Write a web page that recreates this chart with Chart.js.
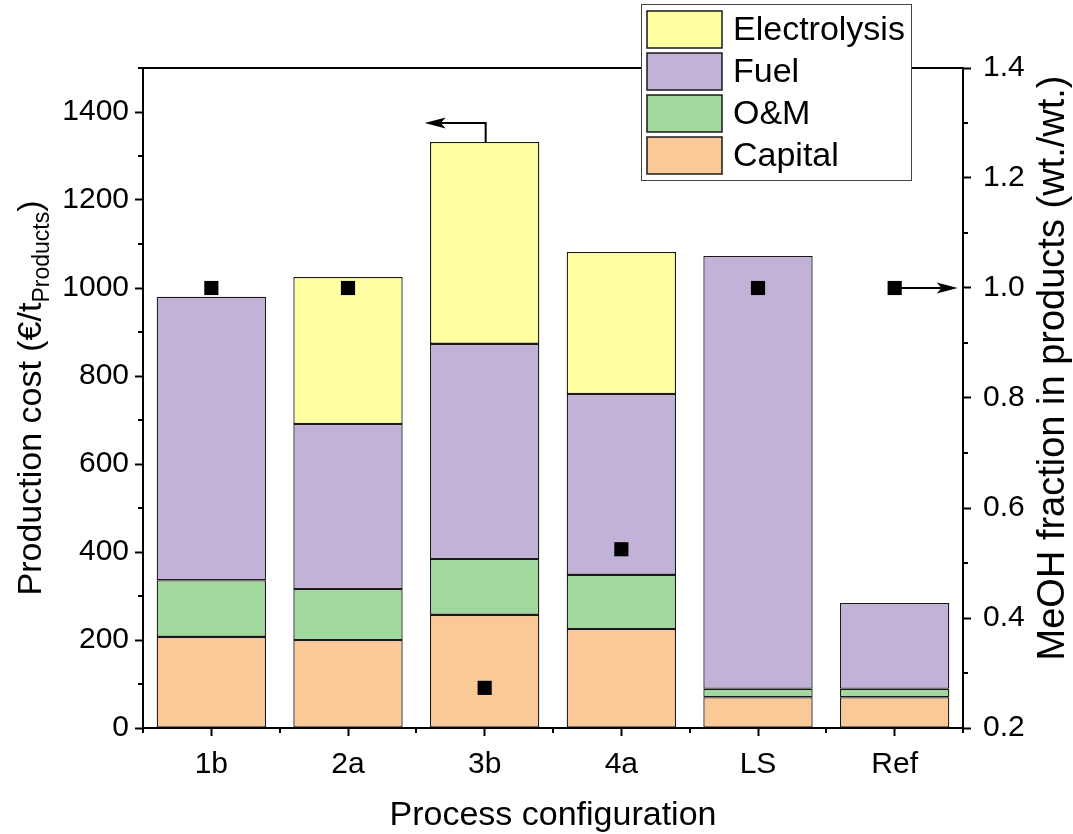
<!DOCTYPE html>
<html>
<head>
<meta charset="utf-8">
<script src="https://cdn.jsdelivr.net/npm/chart.js@4.4.1/dist/chart.umd.min.js"></script>
<style>
  html, body { margin: 0; padding: 0; background: #fff; }
  #wrap { width: 1073px; height: 834px; }
</style>
</head>
<body>
<div id="wrap"><canvas id="c" width="1073" height="834"></canvas></div>
<script>
// Production cost breakdown per process configuration (€/t products)
const categories = ['1b', '2a', '3b', '4a', 'LS', 'Ref'];
const capital = [207, 200, 257, 225, 70, 70];
const om = [129, 116, 127, 123, 19, 19];
const fuel = [644, 375, 489, 411, 984, 195];
const electrolysis = [null, 334, 459, 323, null, null];
// Methanol mass fraction in the products (right axis)
const meohFraction = [1.0, 1.0, 0.273, 0.525, 1.0, 1.0];

const costTicks = [0, 200, 400, 600, 800, 1000, 1200, 1400];
const fractionTicks = [0.2, 0.4, 0.6, 0.8, 1.0, 1.2, 1.4];

const FONT = "'Liberation Sans', Arial, sans-serif";
const colors = {
  capital: '#FBC898',
  om: '#A0D89E',
  fuel: '#C2B2D7',
  electrolysis: '#FFFFA2'
};
const EDGE = '#1a1a1a';

function barSet(label, data, color) {
  return {
    type: 'bar', label, data,
    backgroundColor: color, borderColor: EDGE,
    borderWidth: 1.3, borderSkipped: false,
    barPercentage: 0.8, categoryPercentage: 1.0,
    yAxisID: 'y', stack: 'cost', order: 1
  };
}

// minor ticks, frame, arrows, legend and axis titles
const decorations = {
  id: 'decorations',
  afterDraw(chart) {
    const ctx = chart.ctx;
    const a = chart.chartArea;
    const x = chart.scales.x, y = chart.scales.y, y1 = chart.scales.y1;
    ctx.save();
    ctx.strokeStyle = '#000';
    ctx.lineWidth = 2;
    // top frame line
    ctx.beginPath();
    ctx.moveTo(a.left - 1, a.top);
    ctx.lineTo(a.right + 1, a.top);
    ctx.stroke();
    // minor ticks
    ctx.beginPath();
    for (let v = 100; v <= 1500; v += 200) {
      const py = Math.round(y.getPixelForValue(v));
      ctx.moveTo(a.left, py); ctx.lineTo(a.left - 5, py);
    }
    for (let v = 0.3; v < 1.4; v += 0.2) {
      const py = Math.round(y1.getPixelForValue(v));
      ctx.moveTo(a.right, py); ctx.lineTo(a.right + 5, py);
    }
    for (let i = 0; i <= categories.length; i++) {
      const px = Math.round(x.getPixelForValue(i - 0.5));
      ctx.moveTo(px, a.bottom); ctx.lineTo(px, a.bottom + 5);
    }
    ctx.stroke();

    // arrows pointing to the axis each series belongs to
    function head(tx, ty, dir) {
      ctx.beginPath();
      ctx.moveTo(tx, ty);
      ctx.lineTo(tx - dir * 21, ty - 5.5);
      ctx.lineTo(tx - dir * 16, ty);
      ctx.lineTo(tx - dir * 21, ty + 5.5);
      ctx.closePath();
      ctx.fill();
    }
    ctx.fillStyle = '#000';
    ctx.lineWidth = 2;
    const i3 = 2;
    const cx3 = x.getPixelForValue(i3) + 1;
    const top3 = y.getPixelForValue(capital[i3] + om[i3] + fuel[i3] + electrolysis[i3]);
    const ya = top3 - 19;
    ctx.beginPath();
    ctx.moveTo(cx3, top3);
    ctx.lineTo(cx3, ya);
    ctx.lineTo(cx3 - 50, ya);
    ctx.stroke();
    head(cx3 - 61, ya, -1);
    const i6 = 5;
    const cx6 = x.getPixelForValue(i6);
    const yr = y1.getPixelForValue(meohFraction[i6]);
    ctx.beginPath();
    ctx.moveTo(cx6 + 6, yr);
    ctx.lineTo(cx6 + 50, yr);
    ctx.stroke();
    head(cx6 + 63, yr, 1);

    // legend box
    const lx = 641.5, ly = 4.5, lw = 270, lh = 176;
    ctx.fillStyle = '#fff';
    ctx.fillRect(lx, ly, lw, lh);
    ctx.strokeStyle = '#444';
    ctx.lineWidth = 1;
    ctx.strokeRect(lx, ly, lw, lh);
    const entries = [
      ['Electrolysis', colors.electrolysis],
      ['Fuel', colors.fuel],
      ['O&M', colors.om],
      ['Capital', colors.capital]
    ];
    ctx.font = '34px ' + FONT;
    ctx.textBaseline = 'middle';
    ctx.textAlign = 'left';
    entries.forEach(([label, col], k) => {
      const sy = 11 + k * 42;
      ctx.fillStyle = col;
      ctx.fillRect(647, sy, 75, 37);
      ctx.strokeStyle = EDGE;
      ctx.lineWidth = 1.5;
      ctx.strokeRect(647, sy, 75, 37);
      ctx.fillStyle = '#000';
      ctx.fillText(label, 733, sy + 20);
    });

    // axis titles
    ctx.fillStyle = '#000';
    ctx.textAlign = 'center';
    ctx.textBaseline = 'alphabetic';
    ctx.font = '34px ' + FONT;
    ctx.fillText('Process configuration', (a.left + a.right) / 2, 825);

    // left title with subscript
    ctx.save();
    const big = '34px ' + FONT, small = '23px ' + FONT;
    ctx.translate(41, (a.top + a.bottom) / 2);
    ctx.rotate(-Math.PI / 2);
    const p1 = 'Production cost (€/t', p2 = 'Products', p3 = ')';
    ctx.font = big; const w1 = ctx.measureText(p1).width, w3 = ctx.measureText(p3).width;
    ctx.font = small; const w2 = ctx.measureText(p2).width;
    let sx = -(w1 + w2 + w3) / 2;
    ctx.textAlign = 'left';
    ctx.font = big; ctx.fillText(p1, sx, 0); sx += w1;
    ctx.font = small; ctx.fillText(p2, sx, 8); sx += w2;
    ctx.font = big; ctx.fillText(p3, sx, 0);
    ctx.restore();

    // right title
    ctx.save();
    ctx.translate(1064, (a.top + a.bottom) / 2 - 30);
    ctx.rotate(-Math.PI / 2);
    ctx.textAlign = 'center';
    ctx.font = '38px ' + FONT;
    ctx.fillText('MeOH fraction in products (wt./wt.)', 0, 0);
    ctx.restore();
    ctx.restore();
  }
};

new Chart(document.getElementById('c'), {
  data: {
    labels: categories,
    datasets: [
      {
        type: 'line', label: 'MeOH fraction', data: meohFraction,
        yAxisID: 'y1', showLine: false,
        pointStyle: 'rect', pointRadius: 10, pointHoverRadius: 10,
        backgroundColor: '#000', borderColor: '#000', borderWidth: 0,
        order: 0
      },
      barSet('Capital', capital, colors.capital),
      barSet('O&M', om, colors.om),
      barSet('Fuel', fuel, colors.fuel),
      barSet('Electrolysis', electrolysis, colors.electrolysis)
    ]
  },
  options: {
    responsive: false,
    animation: false,
    devicePixelRatio: 1,
    layout: { padding: { top: 68, left: 0, right: 0, bottom: 0 }, autoPadding: false },
    plugins: { legend: { display: false }, tooltip: { enabled: false } },
    scales: {
      x: {
        stacked: true,
        offset: true,
        grid: { offset: false, drawOnChartArea: false, drawTicks: true, tickLength: 8, tickWidth: 2, tickColor: '#000' },
        border: { display: true, color: '#000', width: 2 },
        ticks: { color: '#000', font: { family: FONT, size: 30 }, padding: 11, maxRotation: 0 },
        afterFit(s) { s.height = 106; }
      },
      y: {
        stacked: true, position: 'left', min: 0, max: 1500,
        afterBuildTicks(s) { s.ticks = costTicks.map(v => ({ value: v })); },
        grid: { drawOnChartArea: false, drawTicks: true, tickLength: 8, tickWidth: 2, tickColor: '#000' },
        border: { display: true, color: '#000', width: 2 },
        ticks: { color: '#000', font: { family: FONT, size: 30 }, padding: 6, callback: v => String(v) },
        afterFit(s) { s.width = 143; }
      },
      y1: {
        stacked: false, position: 'right', min: 0.2, max: 1.4,
        afterBuildTicks(s) { s.ticks = fractionTicks.map(v => ({ value: v })); },
        grid: { drawOnChartArea: false, drawTicks: true, tickLength: 8, tickWidth: 2, tickColor: '#000' },
        border: { display: true, color: '#000', width: 2 },
        ticks: { color: '#000', font: { family: FONT, size: 30 }, padding: 12, callback: v => Number(v).toFixed(1) },
        afterFit(s) { s.width = 110; }
      }
    }
  },
  plugins: [decorations]
});
</script>
</body>
</html>
